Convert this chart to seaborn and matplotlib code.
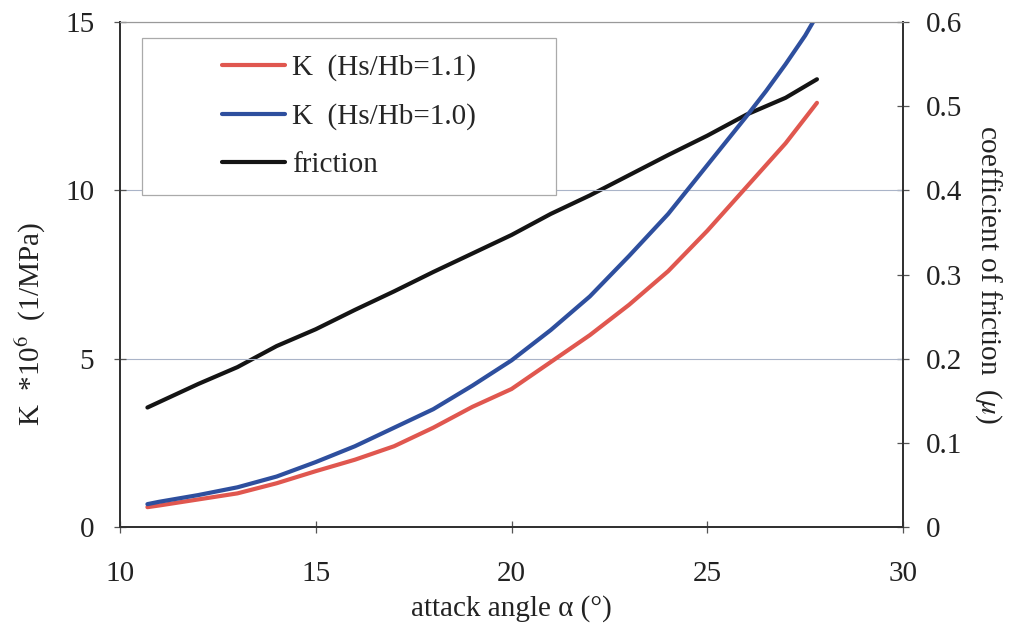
import numpy as np
import pandas as pd
import matplotlib
matplotlib.use("Agg")
import matplotlib.pyplot as plt
from matplotlib.patches import Rectangle
import seaborn as sns

# ---- data ----
angle_k11 = [10.7, 11, 12, 13, 14, 15, 16, 17, 18, 19, 20, 21, 22, 23, 24, 25, 26, 27, 27.8]
k_hs11 = [0.59, 0.64, 0.82, 1.0, 1.3, 1.66, 2.0, 2.4, 2.95, 3.57, 4.1, 4.9, 5.7, 6.6, 7.6, 8.8, 10.1, 11.4, 12.6]

angle_k10 = [10.7, 11, 12, 13, 14, 15, 16, 17, 18, 19, 20, 21, 22, 23, 24, 25, 26, 26.5, 27, 27.5, 27.8]
k_hs10 = [0.68, 0.75, 0.95, 1.18, 1.5, 1.93, 2.4, 2.95, 3.5, 4.2, 4.95, 5.85, 6.85, 8.05, 9.3, 10.75, 12.2, 12.95, 13.75, 14.6, 15.2]

angle_fr = [10.7, 12, 13, 14, 15, 16, 17, 18, 19, 20, 21, 22, 23, 24, 25, 26, 27, 27.8]
friction = [0.142, 0.17, 0.19, 0.215, 0.235, 0.258, 0.28, 0.303, 0.325, 0.347, 0.372, 0.394, 0.418, 0.442, 0.465, 0.49, 0.51, 0.532]

x_ticks = [10, 15, 20, 25, 30]
yl_ticks = [0, 5, 10, 15]
yr_ticks = [0, 0.1, 0.2, 0.3, 0.4, 0.5, 0.6]
yr_labels = ["0", "0.1", "0.2", "0.3", "0.4", "0.5", "0.6"]
labels = ["K  (Hs/Hb=1.1)", "K  (Hs/Hb=1.0)", "friction"]

sns.set_theme(style="white")
plt.rcParams["font.family"] = ["Liberation Serif", "DejaVu Serif"]
plt.rcParams["mathtext.fontset"] = "stix"

RED = "#e0574f"
BLUE = "#2e4f9e"
BLACK = "#141414"
FS = 21

fig = plt.figure(figsize=(10.17, 6.24), dpi=100)
ax = fig.add_axes([0.118, 0.1554, 0.770, 0.8093])
ax2 = ax.twinx()

df11 = pd.DataFrame({"angle": angle_k11, "K": k_hs11})
df10 = pd.DataFrame({"angle": angle_k10, "K": k_hs10})
dff = pd.DataFrame({"angle": angle_fr, "mu": friction})

sns.lineplot(data=df11, x="angle", y="K", ax=ax, color=RED, lw=3, sort=False)
sns.lineplot(data=df10, x="angle", y="K", ax=ax, color=BLUE, lw=3, sort=False)
sns.lineplot(data=dff, x="angle", y="mu", ax=ax2, color=BLACK, lw=3, sort=False)

ax.set_xlim(10, 30)
ax.set_ylim(0, 15)
ax2.set_ylim(0, 0.6)

ax.set_xticks(x_ticks)
ax.set_xticklabels([str(t) for t in x_ticks])
ax.set_yticks(yl_ticks)
ax.set_yticklabels([str(t) for t in yl_ticks])
ax2.set_yticks(yr_ticks)
ax2.set_yticklabels(yr_labels)

for a in (ax, ax2):
    a.grid(False)
ax.yaxis.grid(True, color="#aab4c8", lw=0.8)
ax.set_axisbelow(True)

ax.tick_params(axis="x", direction="inout", length=9, width=0.9, color="#555555",
               labelsize=FS, pad=20, bottom=True, labelcolor="#222222")
ax.tick_params(axis="y", direction="inout", length=9, width=0.9, color="#555555",
               labelsize=FS, pad=14, left=True, labelcolor="#222222")
ax2.tick_params(axis="y", direction="inout", length=9, width=0.9, color="#555555",
                labelsize=FS, pad=12, right=True, labelcolor="#222222")

for a in (ax, ax2):
    for s in ("left", "bottom", "right"):
        a.spines[s].set_color("#333333")
        a.spines[s].set_linewidth(1.4)
    a.spines["top"].set_color("#999999")
    a.spines["top"].set_linewidth(0.8)

ax.set_xlabel("attack angle α (°)", fontsize=FS, color="#222222", labelpad=6)
ax.set_ylabel("K  *10$^6$  (1/MPa)", fontsize=FS, color="#222222")
ax.yaxis.set_label_coords(-0.092, 0.402)
ax2.set_ylabel("coefficient of friction  ($\\mu$)", fontsize=FS, color="#222222",
               rotation=-90, labelpad=30)

# legend
handles = [ax.lines[0], ax.lines[1], ax2.lines[0]]
leg = ax.legend(handles, labels, loc="upper left", bbox_to_anchor=(0.130, 0.936),
                frameon=False, fontsize=FS, handlelength=2.15, handletextpad=0.25,
                labelspacing=0.75, borderpad=0, borderaxespad=0)
frame = Rectangle((0.028, 0.657), 0.529, 0.311, transform=ax.transAxes,
                  facecolor="white", edgecolor="#aaaaaa", lw=0.9, zorder=4)
ax.add_patch(frame)
leg.set_zorder(5)
ax.set_zorder(ax2.get_zorder() + 1)
ax.patch.set_visible(False)

fig.savefig("out.png", dpi=100)
